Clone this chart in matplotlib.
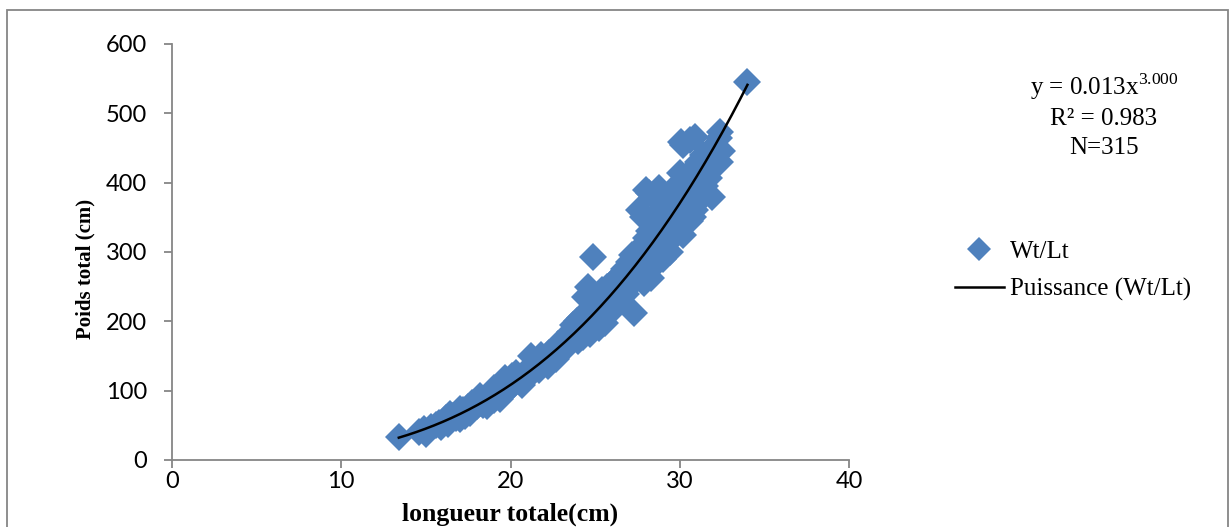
import matplotlib
matplotlib.use('Agg')
import matplotlib.pyplot as plt
from matplotlib.patches import Rectangle
import numpy as np

# longueur totale (cm) et poids total
lt = [13.4, 14.6, 14.9, 15.0, 15.3, 15.6, 15.8, 15.9,
      16.1, 16.2, 16.3, 16.5, 16.6, 16.8, 16.9, 17.0, 17.1, 17.2, 17.3, 17.4, 17.5, 17.6, 17.8, 17.9,
      16.4, 17.0, 17.7, 18.2, 18.6, 19.0, 19.4, 20.3, 20.7,
      18.0, 18.1, 18.2, 18.3, 18.4, 18.5, 18.6, 18.7, 18.8, 18.9, 19.0, 19.1, 19.2, 19.3, 19.4, 19.5,
      19.6, 19.7, 19.8, 19.9, 20.0, 20.1,
      20.2, 20.4, 20.5, 20.6, 20.8, 21.0, 21.1, 21.2, 21.3, 21.5, 21.6, 21.7, 21.8, 22.0, 22.1, 22.2,
      22.3, 22.5, 22.6, 22.7, 22.8, 22.9, 23.0, 23.1, 23.2, 23.3, 23.4, 23.5, 23.6, 23.7, 23.8, 23.9,
      24.0, 24.0, 24.1, 24.2, 24.3, 24.4, 24.5, 24.5, 24.6, 24.7, 24.8, 24.9, 24.9,
      25.0, 25.1, 25.2, 25.2, 25.3, 25.4, 25.5, 25.6, 25.6, 25.7, 25.8, 25.9, 26.0, 26.0, 26.1, 26.2,
      26.3, 26.4, 26.5, 26.5, 26.6, 26.7, 26.8, 26.9, 27.0, 27.0, 27.1, 27.2, 27.3, 27.3, 27.4, 27.5,
      27.5, 27.6, 27.6, 27.7, 27.8, 27.8, 27.9, 27.9, 28.0, 28.0,
      28.1, 28.2, 28.3, 28.3, 28.4, 28.5, 28.6, 28.7, 28.7, 28.8, 28.9, 29.0, 29.0, 29.0, 29.1, 29.2,
      29.3, 29.4, 29.4, 29.5, 29.6, 29.6, 29.7, 29.8, 29.9, 30.0, 30.0, 30.1, 30.2, 30.2, 30.3,
      28.0, 28.2, 28.5, 28.8, 30.1, 30.6, 30.9,
      30.4, 30.5, 30.6, 30.7, 30.8, 30.8, 30.9, 31.0, 31.1, 31.2, 31.3, 31.4, 31.5, 31.6, 31.7, 31.8,
      31.9, 32.0, 32.1, 32.2, 32.3, 32.4, 32.5, 32.4,
      34.0]
wt = [33, 40, 45, 38, 47, 50, 53, 47,
      55, 60, 52, 58, 63, 61, 68, 59, 66, 72, 64, 70, 76, 68, 74, 80,
      66, 73, 82, 92, 78, 104, 88, 125, 108,
      78, 85, 82, 88, 79, 86, 92, 84, 95, 90, 87, 98, 93, 100, 96, 108,
      102, 118, 100, 112, 106, 121,
      110, 115, 120, 112, 125, 118, 130, 150, 127, 135, 145, 130, 152, 140, 148, 135,
      155, 150, 160, 145, 168, 158, 165, 172, 160, 178, 168, 185, 175, 195, 180, 200,
      185, 172, 205, 190, 178, 235, 210, 195, 250, 182, 215, 293, 200,
      230, 205, 240, 190, 220, 245, 210, 235, 198, 250, 225, 240, 215, 255, 232, 260,
      225, 245, 268, 235, 250, 275, 240, 260, 285, 250, 270, 295, 212, 258, 280, 300,
      265, 360, 290, 275, 310, 350, 255, 295, 320, 280,
      300, 330, 290, 262, 340, 310, 355, 285, 320, 345, 300, 335, 365, 290, 315, 350,
      330, 370, 300, 340, 380, 320, 355, 395, 345, 375, 414, 360, 325, 454, 390,
      390, 385, 380, 392, 458, 462, 466,
      370, 400, 345, 385, 420, 350, 360, 400, 430, 375, 410, 440, 395, 425, 407, 445,
      380, 430, 455, 440, 465, 473, 445, 430,
      545]

eq_lines = ['y = 0.013x$^{3.000}$', 'R² = 0.983', 'N=315']

plt.rcParams['mathtext.fontset'] = 'custom'
plt.rcParams['mathtext.rm'] = 'Liberation Serif'

W, H = 1231, 527
fig = plt.figure(figsize=(W / 100, H / 100), dpi=100)
ax = fig.add_axes([172 / W, 67 / H, (849 - 172) / W, (460 - 44) / H])

blue = '#4F81BD'
grey = '#868686'

# nuage de points
ax.plot(lt, wt, 'D', color=blue, markersize=14, markeredgewidth=0,
        linestyle='none', label='Wt/Lt')

# courbe de tendance puissance : ajustement log-log
b, loga = np.polyfit(np.log(lt), np.log(wt), 1)
xs = np.linspace(min(lt), max(lt), 200)
ax.plot(xs, np.exp(loga) * xs ** b, color='black', lw=1.8,
        label='Puissance (Wt/Lt)')

ax.set_xlim(0, 40)
ax.set_ylim(0, 600)
ax.set_xticks(range(0, 41, 10))
ax.set_yticks(range(0, 601, 100))
for s in ['top', 'right']:
    ax.spines[s].set_visible(False)
for s in ['left', 'bottom']:
    ax.spines[s].set_color(grey)
    ax.spines[s].set_linewidth(1.3)
ax.tick_params(direction='out', length=6, width=1.3, color=grey,
               labelsize=17)
ax.tick_params(axis='y', pad=12)
ax.tick_params(axis='x', pad=2)
for t in ax.get_xticklabels() + ax.get_yticklabels():
    t.set_fontfamily('Lato')

fig.text(510 / W, 1 - 514 / H, 'longueur totale(cm)', family='Liberation Serif',
         weight='bold', fontsize=18.5, ha='center', va='center')
fig.text(85 / W, 1 - 269 / H, 'Poids total (cm)', family='Liberation Serif',
         weight='bold', fontsize=15, ha='center', va='center', rotation=90)

# équation, R² et effectif
for txt, yb in zip(eq_lines, [95, 125, 154]):
    fig.text(1104 / W, 1 - yb / H, txt, family='Liberation Serif', fontsize=18,
             ha='center', va='baseline')

fig.legend(loc='center left', bbox_to_anchor=(955 / W, 1 - 271 / H),
           frameon=False, borderpad=0, borderaxespad=0, handlelength=1.95,
           handletextpad=0.25, labelspacing=0.6, markerscale=0.85,
           prop={'family': 'Liberation Serif', 'size': 18})

# cadre autour de la figure
fig.patches.append(Rectangle((7 / W, -0.05), (1228 - 7) / W, 1.05 - 10 / H,
                             transform=fig.transFigure, fill=False,
                             edgecolor=grey, lw=1.3))

plt.savefig('out.png', dpi=100)
